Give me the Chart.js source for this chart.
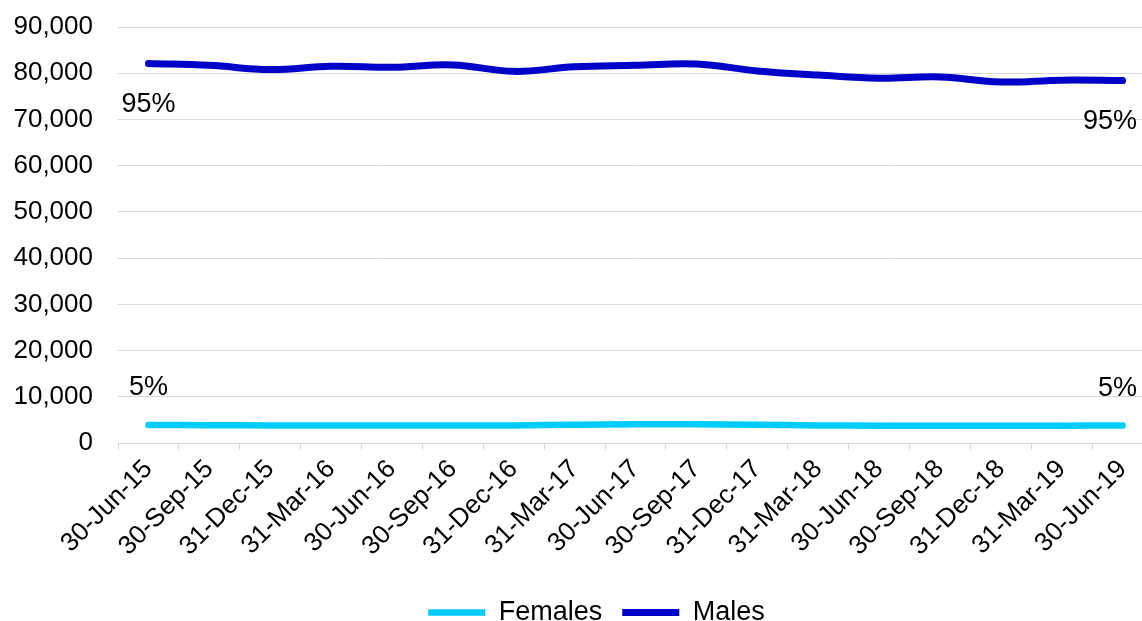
<!DOCTYPE html>
<html>
<head>
<meta charset="utf-8">
<script src="https://cdn.jsdelivr.net/npm/chart.js@4.4.1/dist/chart.umd.min.js"></script>
<style>
  html, body { margin: 0; padding: 0; overflow: hidden; background: #ffffff; }
  #wrap { position: relative; width: 1153px; height: 621px; }
</style>
</head>
<body>
<div id="wrap"><canvas id="c"></canvas></div>
<script>
// Quarter-end dates
const quarters = [
  '30-Jun-15', '30-Sep-15', '31-Dec-15', '31-Mar-16', '30-Jun-16', '30-Sep-16',
  '31-Dec-16', '31-Mar-17', '30-Jun-17', '30-Sep-17', '31-Dec-17', '31-Mar-18',
  '30-Jun-18', '30-Sep-18', '31-Dec-18', '31-Mar-19', '30-Jun-19'
];

// Headcount by sex at each quarter end
const females = [3900, 3850, 3800, 3800, 3800, 3800, 3800, 3950, 4050, 4050, 3950, 3800, 3750, 3750, 3750, 3750, 3800];
const males   = [82100, 81700, 80800, 81500, 81300, 81800, 80400, 81400, 81700, 82000, 80500, 79600, 78900, 79200, 78100, 78500, 78400];

// Value axis range
const yMin = 0;
const yMax = 90000;
const yStep = 10000;

const FONT = '"Liberation Sans", Arial, Helvetica, sans-serif';
Chart.defaults.font.family = FONT;
Chart.defaults.font.size = 26;
Chart.defaults.color = '#000000';

// Share of the total for each sex, written at the first and last quarter
const shareLabels = {
  id: 'shareLabels',
  afterDatasetsDraw(chart) {
    const ctx = chart.ctx;
    ctx.save();
    ctx.font = '27px ' + FONT;
    ctx.fillStyle = '#000000';
    ctx.textAlign = 'center';
    ctx.textBaseline = 'middle';
    chart.data.datasets.forEach((ds, di) => {
      const meta = chart.getDatasetMeta(di);
      const below = ds.label === 'Males';
      [0, ds.data.length - 1].forEach(i => {
        const p = meta.data[i];
        const total = females[i] + males[i];
        const text = Math.round(ds.data[i] / total * 100) + '%';
        const w = ctx.measureText(text).width;
        const x = Math.min(p.x, 1137 - w / 2);
        const y = below ? p.y + 41 : p.y - 37;
        ctx.fillText(text, x, y);
      });
    });
    ctx.restore();
  }
};

// Places the legend row under the axis labels, centred under the series
const legendPlacement = {
  id: 'legendPlacement',
  afterLayout(chart) {
    const lg = chart.legend;
    if (!lg) return;
    const dx = 20;
    const top = 579;
    lg.left += dx;
    lg.right += dx;
    lg.bottom = top + lg.height;
    lg.top = top;
  }
};

new Chart(document.getElementById('c'), {
  type: 'line',
  data: {
    labels: quarters,
    datasets: [
      {
        label: 'Females',
        data: females,
        borderColor: '#00CCFF',
        backgroundColor: '#00CCFF',
        borderWidth: 6.5,
        borderCapStyle: 'round',
        pointRadius: 0,
        tension: 0.4,
        fill: false
      },
      {
        label: 'Males',
        data: males,
        borderColor: '#0000C8',
        backgroundColor: '#0000C8',
        borderWidth: 7,
        borderCapStyle: 'round',
        pointRadius: 0,
        tension: 0.4,
        fill: false
      }
    ]
  },
  options: {
    responsive: true,
    maintainAspectRatio: false,
    animation: false,
    layout: { padding: { left: 0, right: 0, top: 0, bottom: 0 } },
    plugins: {
      legend: {
        position: 'bottom',
        labels: {
          usePointStyle: true,
          pointStyle: 'line',
          pointStyleWidth: 57,
          boxHeight: 7,
          padding: 20,
          font: { size: 27 }
        }
      },
      tooltip: { enabled: false }
    },
    scales: {
      x: {
        offset: true,
        grid: { offset: true, drawOnChartArea: false, drawTicks: true, tickLength: 7, color: '#d9d9d9' },
        border: { color: '#d9d9d9', width: 1 },
        ticks: { autoSkip: false, maxRotation: 45, minRotation: 45, padding: 4, font: { size: 26 } },
        afterFit(scale) { scale.height = 121; }
      },
      y: {
        min: yMin,
        max: yMax,
        ticks: {
          stepSize: yStep,
          padding: 25,
          callback: v => v.toLocaleString('en-US')
        },
        grid: { color: '#d9d9d9', drawTicks: false },
        border: { display: false },
        afterFit(scale) {
          scale.width = 118;
          scale.paddingTop = 27;
          scale.paddingBottom = 0;
        }
      }
    }
  },
  plugins: [shareLabels, legendPlacement]
});
</script>
</body>
</html>
